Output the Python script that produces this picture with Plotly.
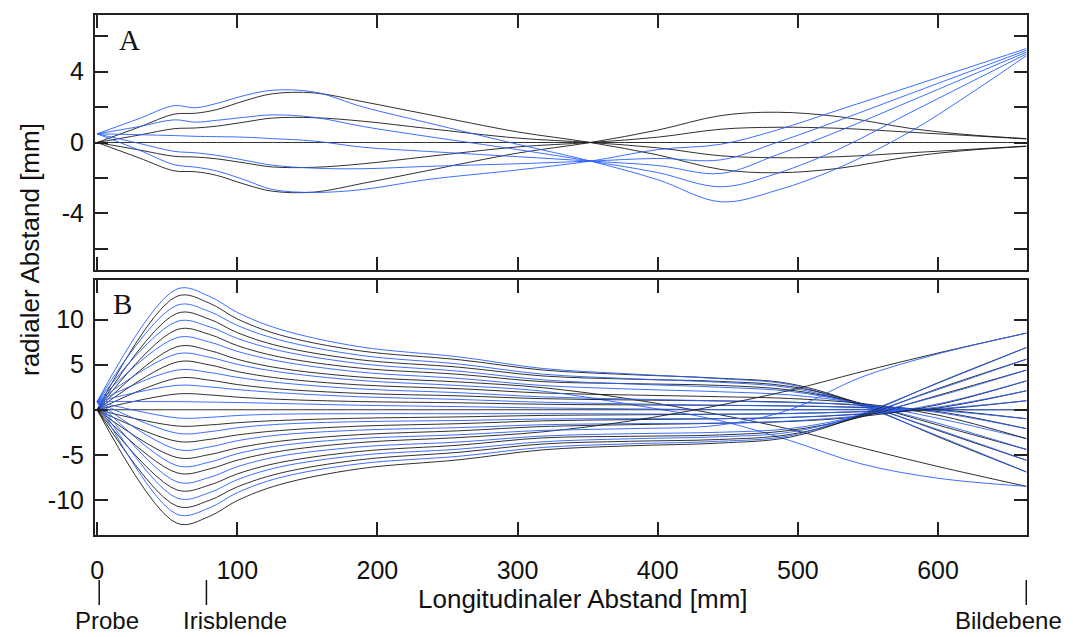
import plotly.graph_objects as go

# ---------------- Panel A (small aperture) ----------------
XA = [0, 30, 55, 70, 85, 105, 125, 155, 190, 235, 300, 352, 400, 445, 485, 530, 580, 620, 663]

A_BLACK_1 = [0, 0.87, 1.6, 1.65, 1.85, 2.35, 2.75, 2.8, 2.3, 1.6, 0.6, 0, -0.7, -1.52, -1.71, -1.45, -0.8, -0.45, -0.22]
A_BLACK_2 = [0, 0.42, 0.78, 0.82, 0.92, 1.15, 1.38, 1.4, 1.2, 0.8, 0.25, 0, -0.3, -0.75, -0.86, -0.8, -0.58, -0.4, -0.2]
A_BLACK_3 = [0, 0, 0, 0, 0, 0, 0, 0, 0, 0, 0, 0, 0, 0, 0, 0, 0, 0, 0]
A_BLACK_4 = [0, -0.42, -0.78, -0.82, -0.92, -1.15, -1.38, -1.4, -1.2, -0.8, -0.25, 0, 0.3, 0.75, 0.86, 0.8, 0.58, 0.4, 0.2]
A_BLACK_5 = [0, -0.87, -1.6, -1.65, -1.85, -2.35, -2.75, -2.8, -2.3, -1.6, -0.6, 0, 0.7, 1.52, 1.71, 1.45, 0.8, 0.45, 0.22]

A_BLUE_1 = [0.49, 1.35, 2.08, 1.96, 2.2, 2.65, 2.95, 2.85, 2.0, 1.13, -0.1, -1.05, -2.1, -3.35, -2.7, -1.4, 0.6, 2.6, 4.9]
A_BLUE_2 = [0.49, 0.9, 1.28, 1.15, 1.25, 1.42, 1.56, 1.42, 0.9, 0.35, -0.4, -1.05, -1.7, -2.5, -1.75, -0.35, 1.68, 3.28, 5.0]
A_BLUE_3 = [0.49, 0.44, 0.39, 0.35, 0.33, 0.3, 0.22, 0.08, -0.27, -0.5, -0.8, -1.05, -1.3, -1.75, -0.7, 0.67, 2.33, 3.67, 5.1]
A_BLUE_4 = [0.49, -0.05, -0.5, -0.58, -0.72, -1.0, -1.28, -1.45, -1.48, -1.35, -1.2, -1.05, -0.9, -0.98, 0.0, 1.27, 2.75, 3.93, 5.2]
A_BLUE_5 = [0.49, -0.43, -1.25, -1.39, -1.6, -2.1, -2.65, -2.82, -2.65, -2.1, -1.55, -1.05, -0.4, -0.1, 0.7, 1.86, 3.15, 4.19, 5.3]

# ---------------- Panel B (large aperture) ----------------
XB = [0, 57, 80, 100, 130, 187, 259, 318, 380, 444, 494, 545, 600, 663]

B_BLACK_P7 = [0, 12.6, 11.84, 10.08, 8.32, 6.55, 5.54, 4.41, 3.9, 3.5, 2.9, 0.6, -3.0, -6.9]
B_BLACK_P6 = [0, 10.7, 10.06, 8.56, 7.06, 5.56, 4.71, 3.75, 3.4, 3.15, 2.6, 0.7, -2.3, -5.6]
B_BLACK_P5 = [0, 8.9, 8.37, 7.12, 5.87, 4.63, 3.92, 3.12, 2.9, 2.7, 2.2, 0.7, -1.7, -4.4]
B_BLACK_P4 = [0, 7.0, 6.58, 5.6, 4.62, 3.64, 3.08, 2.45, 1.2, -0.55, -2.15, -4.2, -6.3, -8.5]
B_BLACK_P3 = [0, 5.3, 4.98, 4.24, 3.5, 2.76, 2.33, 1.86, 1.64, 1.45, 1.25, 0.7, -0.6, -3.2]
B_BLACK_P2 = [0, 3.5, 3.29, 2.8, 2.31, 1.82, 1.54, 1.23, 1.09, 0.98, 0.85, 0.5, -0.2, -2.1]
B_BLACK_P1 = [0, 1.75, 1.65, 1.4, 1.16, 0.91, 0.77, 0.61, 0.54, 0.49, 0.42, 0.25, 0.0, -1.0]
B_BLACK_0 = [0, 0, 0, 0, 0, 0, 0, 0, 0, 0, 0, 0, 0, 0]
B_BLACK_M1 = [0, -1.8, -1.69, -1.44, -1.19, -0.94, -0.79, -0.63, -0.56, -0.5, -0.42, -0.22, 0.05, 1.0]
B_BLACK_M2 = [0, -3.5, -3.29, -2.8, -2.31, -1.82, -1.54, -1.23, -1.1, -1.0, -0.85, -0.5, 0.2, 2.1]
B_BLACK_M3 = [0, -5.3, -4.98, -4.24, -3.5, -2.76, -2.33, -1.86, -1.66, -1.5, -1.3, -0.75, 0.55, 3.2]
B_BLACK_M4 = [0, -7.0, -6.58, -5.6, -4.62, -3.64, -3.08, -2.45, -1.25, 0.5, 2.15, 4.2, 6.3, 8.5]
B_BLACK_M5 = [0, -8.9, -8.37, -7.12, -5.87, -4.63, -3.92, -3.12, -2.95, -2.8, -2.3, -0.8, 1.6, 4.4]
B_BLACK_M6 = [0, -10.7, -10.06, -8.56, -7.06, -5.56, -4.71, -3.8, -3.5, -3.3, -2.75, -0.75, 2.35, 5.6]
B_BLACK_M7 = [0, -12.6, -11.84, -10.08, -8.32, -6.55, -5.54, -4.45, -4.0, -3.7, -3.05, -0.6, 3.0, 6.9]

B_BLUE_P7 = [0.9, 13.4, 12.6, 10.8, 8.95, 7.0, 5.85, 4.58, 3.98, 3.45, 2.8, 0.45, -2.9, -6.9]
B_BLUE_P6 = [0.9, 11.6, 10.91, 9.36, 7.76, 6.06, 5.06, 3.95, 3.45, 3.05, 2.45, 0.55, -2.2, -5.6]
B_BLUE_P5 = [0.9, 9.8, 9.22, 7.92, 6.57, 5.13, 4.27, 3.32, 2.86, 2.5, 2.05, 0.65, -1.5, -4.4]
B_BLUE_P4 = [0.9, 8.0, 7.52, 6.48, 5.39, 4.19, 3.47, 2.69, 2.3, 2.0, 1.65, 0.7, -0.95, -3.2]
B_BLUE_P3 = [0.9, 6.2, 5.83, 5.04, 4.2, 3.26, 2.68, 2.06, 0.6, -1.2, -3.4, -6.0, -7.6, -8.5]
B_BLUE_P2 = [0.9, 4.4, 4.14, 3.6, 3.01, 2.32, 1.89, 1.43, 1.19, 0.98, 0.8, 0.55, -0.3, -2.1]
B_BLUE_P1 = [0.9, 2.7, 2.54, 2.24, 1.89, 1.44, 1.14, 0.83, 0.66, 0.5, 0.42, 0.3, -0.08, -1.0]
B_BLUE_0 = [0.9, 0.9, 0.85, 0.8, 0.7, 0.5, 0.35, 0.2, 0.1, 0.02, 0.0, 0.05, 0.0, 0.0]
B_BLUE_M1 = [0.9, -0.9, -0.84, -0.64, -0.49, -0.44, -0.44, -0.43, -0.46, -0.5, -0.42, -0.2, 0.12, 1.0]
B_BLUE_M2 = [0.9, -2.6, -2.44, -2.0, -1.61, -1.32, -1.19, -1.03, -0.99, -0.98, -0.85, -0.45, 0.3, 2.1]
B_BLUE_M3 = [0.9, -4.4, -4.13, -3.44, -2.8, -2.26, -1.98, -1.66, -1.54, -1.48, -1.25, -0.65, 0.65, 3.2]
B_BLUE_M4 = [0.9, -6.2, -5.82, -4.88, -3.99, -3.19, -2.77, -2.29, -2.1, -1.7, 0.0, 3.6, 6.2, 8.5]
B_BLUE_M5 = [0.9, -8.0, -7.52, -6.32, -5.17, -4.13, -3.57, -2.92, -2.66, -2.5, -2.1, -0.65, 1.5, 4.4]
B_BLUE_M6 = [0.9, -9.8, -9.21, -7.76, -6.36, -5.06, -4.36, -3.55, -3.22, -3.0, -2.5, -0.6, 2.25, 5.6]
B_BLUE_M7 = [0.9, -11.6, -10.9, -9.2, -7.55, -6.0, -5.15, -4.18, -3.78, -3.5, -2.9, -0.45, 2.95, 6.9]

A_BLACK = [A_BLACK_1, A_BLACK_2, A_BLACK_3, A_BLACK_4, A_BLACK_5]
A_BLUE = [A_BLUE_1, A_BLUE_2, A_BLUE_3, A_BLUE_4, A_BLUE_5]
B_BLACK = [B_BLACK_P7, B_BLACK_P6, B_BLACK_P5, B_BLACK_P4, B_BLACK_P3, B_BLACK_P2, B_BLACK_P1, B_BLACK_0,
           B_BLACK_M1, B_BLACK_M2, B_BLACK_M3, B_BLACK_M4, B_BLACK_M5, B_BLACK_M6, B_BLACK_M7]
B_BLUE = [B_BLUE_P7, B_BLUE_P6, B_BLUE_P5, B_BLUE_P4, B_BLUE_P3, B_BLUE_P2, B_BLUE_P1, B_BLUE_0,
          B_BLUE_M1, B_BLUE_M2, B_BLUE_M3, B_BLUE_M4, B_BLUE_M5, B_BLUE_M6, B_BLUE_M7]

X_TICKS = [0, 100, 200, 300, 400, 500, 600]
A_YTICKS = [-6, -4, -2, 0, 2, 4, 6]
A_YTICKTEXT = ["", "-4", "", "0", "", "4", ""]
B_YTICKS = [-10, -5, 0, 5, 10]
B_YTICKTEXT = ["-10", "-5", "0", "5", "10"]
MARKERS = [(1.5, "Probe"), (78, "Irisblende"), (663, "Bildebene")]

BLACK = "rgba(25,25,25,0.9)"
BLUE = "rgba(40,95,255,0.9)"
FONT = "Liberation Sans, Arial, sans-serif"

fig = go.Figure()
for ys in A_BLACK:
    fig.add_trace(go.Scatter(x=XA, y=ys, mode="lines", xaxis="x", yaxis="y",
                             line=dict(color=BLACK, width=1, shape="spline", smoothing=1.0),
                             showlegend=False, hoverinfo="skip"))
for ys in A_BLUE:
    fig.add_trace(go.Scatter(x=XA, y=ys, mode="lines", xaxis="x", yaxis="y",
                             line=dict(color=BLUE, width=1, shape="spline", smoothing=1.0),
                             showlegend=False, hoverinfo="skip"))
for yk, yb in zip(B_BLACK, B_BLUE):
    fig.add_trace(go.Scatter(x=XB, y=yk, mode="lines", xaxis="x2", yaxis="y2",
                             line=dict(color=BLACK, width=1, shape="spline", smoothing=1.0),
                             showlegend=False, hoverinfo="skip"))
    fig.add_trace(go.Scatter(x=XB, y=yb, mode="lines", xaxis="x2", yaxis="y2",
                             line=dict(color=BLUE, width=1, shape="spline", smoothing=1.0),
                             showlegend=False, hoverinfo="skip"))

axis_common = dict(showline=True, linecolor="#222", linewidth=2, mirror="allticks",
                   ticks="inside", ticklen=13, tickwidth=2, tickcolor="#222",
                   showgrid=False, zeroline=False,
                   tickfont=dict(family=FONT, size=25, color="#111"))

W, H = 1073, 637
ML, MR, MT, MB = 95, 46, 15, 102
PH = H - MT - MB

def py(px):
    return (H - MB - px) / PH

def px_(xp):
    return (xp - ML) / (W - ML - MR)

fig.update_layout(
    width=W, height=H, margin=dict(l=ML, r=MR, t=MT, b=MB),
    paper_bgcolor="white", plot_bgcolor="white",
    xaxis=dict(domain=[0, 1], range=[-1.5, 663.5], anchor="y", tickvals=X_TICKS,
               showticklabels=False, **axis_common),
    yaxis=dict(domain=[py(270), 1], range=[-7.2, 7.2], anchor="x", tickvals=A_YTICKS,
               ticktext=A_YTICKTEXT, ticklabelstandoff=4, **axis_common),
    xaxis2=dict(domain=[0, 1], range=[-1.5, 663.5], anchor="y2", tickvals=X_TICKS,
                ticklabelstandoff=12, **axis_common),
    yaxis2=dict(domain=[0, py(280)], range=[-13.9, 14.4], anchor="x2", tickvals=B_YTICKS,
                ticktext=B_YTICKTEXT, ticklabelstandoff=4, **axis_common),
)

ann = [
    dict(text="A", x=px_(129), y=py(40), font=dict(family="Liberation Serif, Times New Roman, serif", size=29, color="#111")),
    dict(text="B", x=px_(122), y=py(304), font=dict(family="Liberation Serif, Times New Roman, serif", size=29, color="#111")),
    dict(text="radialer Abstand [mm]", x=px_(30), y=py(250), textangle=-90,
         font=dict(family=FONT, size=26, color="#111")),
    dict(text="Longitudinaler Abstand [mm]", x=px_(583), y=py(599),
         font=dict(family=FONT, size=26, color="#111")),
]
label_px = {"Probe": 107, "Irisblende": 235, "Bildebene": 1008}
for xv, name in MARKERS:
    ann.append(dict(text=name, x=px_(label_px[name]), y=py(620),
                    font=dict(family=FONT, size=24, color="#111")))
    fig.add_shape(type="line", xref="x2", yref="paper", x0=xv, x1=xv, y0=py(580), y1=py(605),
                  line=dict(color="#111", width=1.5))
for a in ann:
    a.update(xref="paper", yref="paper", showarrow=False, xanchor="center", yanchor="middle")
fig.update_layout(annotations=ann)

fig.write_html("out.html")
